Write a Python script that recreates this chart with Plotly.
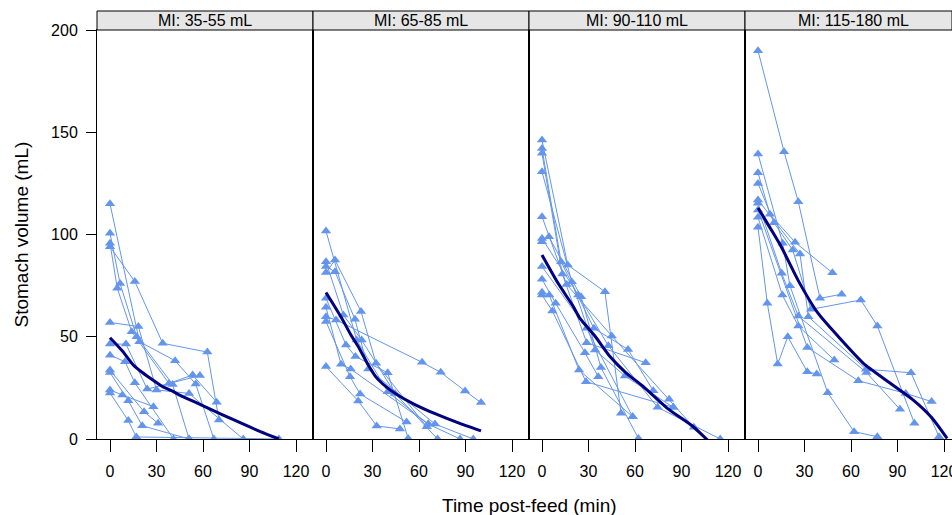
import plotly.graph_objects as go

# ---------------- data ----------------
panel_labels = ["MI: 35-55 mL", "MI: 65-85 mL", "MI: 90-110 mL", "MI: 115-180 mL"]
x_ticks = [0, 30, 60, 90, 120]
y_ticks = [0, 50, 100, 150, 200]

# panel 1 subjects: time (min) and stomach volume (mL)
p1_time = [[0, 19, 42, 55.3, 67], [0, 6.5, 17.2, 40.4, 51], [0, 4.7, 14, 38, 53.3, 68.8],
           [0, 16, 34, 62.8, 70.3], [0, 18.3, 30, 51, 86], [0, 10.3, 24, 58],
           [0, 9.7, 16, 41], [0, 22, 31], [0, 11.8, 20.8, 51], [0, 11.8, 17, 109], [0, 8, 28]]
p1_vol = [[115, 47.6, 38.3, 26.9, 0], [100.6, 76, 50, 26.7, 0], [95.7, 73.7, 52.5, 27.2, 31.3, 18],
          [94, 77, 46.8, 42.5, 9.3], [57, 55, 24, 22.3, 0], [46.4, 46.4, 24.4, 31],
          [41, 37.8, 27.5, 0], [33.7, 13.3, 7.7], [32.5, 18.7, 6.5, 0], [22.5, 9, 1, 0], [24, 21.5, 15.8]]

p2_time = [[0, 19.8, 39.8, 66, 86.5], [0, 11.2, 23, 44.5, 72], [0, 6.5, 62, 74, 89.7, 100],
           [0, 5.8, 22.6, 32.3, 65], [0, 5.8, 18.7, 27.3, 70.3, 95], [0, 12.9, 19, 39.8, 53],
           [0, 9.7, 15.9, 66], [0, 15.5, 22, 52], [0, 20.8, 32.7, 47.7]]
p2_vol = [[101.7, 48.4, 23.1, 7.3, 0], [86.7, 60.6, 48.4, 22.3, 0], [59.8, 58.2, 37.5, 32.6, 23.5, 17.8],
          [81.4, 87.5, 62.3, 37, 6], [84.3, 81.8, 58.5, 34.2, 7.3, 0], [68.8, 46, 40.3, 32.4, 0.3],
          [64.4, 36.5, 34.2, 7.3], [57.4, 30.5, 22, 8.3], [35.4, 18.6, 6.4, 4.9]]

p3_time = [[0, 16.6, 40.6, 51], [0, 12.3, 33.5, 55.5, 71.8], [0, 13.1, 28.8, 66.9],
           [0, 19.2, 34.2, 53.5, 84.7], [0, 15.9, 45, 82, 98], [0, 23.4, 42.8, 74.6, 115],
           [0, 4.5, 25.2, 38, 62.2], [0, 28.8, 58.5], [0, 8.8, 27.7, 36.3],
           [0, 4.7, 23.9, 58.5], [0, 6.7, 28.4, 84.7]]
p3_vol = [[146.2, 85.1, 72, 12.6], [142.1, 86.7, 54.1, 43.8, 23.6], [139.7, 80.7, 47.1, 37.3],
          [130.7, 76.9, 43.5, 30.8, 15.5], [108.7, 75.6, 50.4, 19.4, 5.7], [98.1, 70.4, 45.6, 15.5, 0],
          [96.5, 98.9, 69.6, 35, 0.3], [84.3, 54.1, 10.9], [78.1, 66.4, 42.2, 30.5],
          [71.7, 70.4, 33.7, 10.9], [70.4, 62.6, 28, 15.5]]

p4_time = [[0, 16.8, 26, 40, 54], [0, 15.9, 20.6, 45, 62, 77], [0, 7.7, 23.9, 48],
           [0, 10.3, 22.4, 34.2, 66.3, 77, 100.9], [0, 27.1, 32.5, 69.7, 98.7, 116.8],
           [0, 15.3, 26, 70, 91.6], [0, 15.7, 26, 49.2], [0, 6, 12.7, 19.2, 31.8, 37.9],
           [0, 31.8, 64.7, 95.3, 112]]
p4_vol = [[189.9, 140.5, 116, 68.8, 70.8], [139.4, 95.7, 75, 22.6, 3.6, 1.1], [130.2, 109.9, 96.2, 81.3],
          [125, 105.8, 92.4, 63.4, 68, 55.3, 7.7], [116.9, 90.5, 59.8, 34.1, 32.4, 1.1],
          [115.3, 81, 60.1, 32.5, 14.5], [108.4, 70.4, 55.3, 38.6], [103.5, 66.4, 36.7, 50, 32.9, 31.8],
          [112, 44.8, 28.5, 22.3, 18.3]]

# smooth (mean) curves
s1_time = [0, 8, 15, 20, 26, 34, 40, 47, 55, 65, 80, 97, 109]
s1_vol = [49.5, 43, 36.2, 33, 29.7, 25.6, 23.5, 20.7, 18, 14.5, 9.3, 3.6, 0]
s2_time = [0, 5, 10.8, 16, 21.5, 27, 32, 38.7, 46.2, 58, 70, 85, 100]
s2_vol = [71.6, 65.5, 58.2, 51, 44.3, 36.5, 30.5, 25.6, 21.5, 16.6, 12.5, 8, 4]
s3_time = [0, 10.5, 20, 24.5, 34, 44, 54, 65.4, 80.9, 97.6, 106.5, 112]
s3_vol = [90, 76, 65, 59, 50.5, 40.2, 32.5, 25.6, 15, 6, -0.3, -4]
s4_time = [0, 8, 15, 25.8, 38.7, 53.8, 68, 84, 100.2, 112, 122]
s4_vol = [113, 103, 94, 77.7, 61.5, 48.4, 37, 28, 19, 10.5, 0.3]

subject_times = [p1_time, p2_time, p3_time, p4_time]
subject_vols = [p1_vol, p2_vol, p3_vol, p4_vol]
smooth_times = [s1_time, s2_time, s3_time, s4_time]
smooth_vols = [s1_vol, s2_vol, s3_vol, s4_vol]

# ---------------- layout geometry ----------------
W, H = 952, 515
panel_px = [(97, 313), (313, 529), (529, 745), (745, 960)]
zero_px = [110, 326, 542, 758]
px_per_min = 1.55
top_px, bot_px = 30, 439
strip_top, strip_bot = 11, 30

point_col = "#6495ED"
smooth_col = "#000080"
font_family = "Liberation Sans, Arial, sans-serif"

fig = go.Figure()

for i in range(4):
    ax = "" if i == 0 else str(i + 1)
    for t, v in zip(subject_times[i], subject_vols[i]):
        fig.add_trace(go.Scatter(
            x=t, y=v, mode="lines+markers", xaxis="x" + ax, yaxis="y" + ax,
            line=dict(color=point_col, width=1),
            marker=dict(symbol="triangle-up", size=9, color=point_col, line=dict(width=0)),
            showlegend=False, hoverinfo="x+y"))
    fig.add_trace(go.Scatter(
        x=smooth_times[i], y=smooth_vols[i], mode="lines", xaxis="x" + ax, yaxis="y" + ax,
        line=dict(color=smooth_col, width=3, shape="spline", smoothing=0.6),
        showlegend=False, hoverinfo="skip"))

layout = dict(
    width=W, height=H, margin=dict(l=0, r=0, t=0, b=0, autoexpand=False),
    paper_bgcolor="white", plot_bgcolor="white",
    font=dict(family=font_family, size=16, color="black"),
    showlegend=False,
)

y_dom = [1 - bot_px / H, 1 - top_px / H]
shapes = []
annotations = []
for i, (lr, rr) in enumerate(panel_px):
    key = "" if i == 0 else str(i + 1)
    l, r = lr, min(rr, W)
    x0 = (lr - zero_px[i]) / px_per_min
    x1 = x0 + (r - l) / px_per_min
    layout["xaxis" + key] = dict(
        domain=[l / W, r / W], range=[x0, x1], anchor="y" + key, automargin=False,
        tickvals=x_ticks, ticks="outside", ticklen=12, tickcolor="black",
        ticklabelstandoff=6, tickfont=dict(size=16), ticklabeloverflow="allow",
        showline=True, linecolor="black", linewidth=1, mirror=True,
        showgrid=False, zeroline=False, fixedrange=True)
    layout["yaxis" + key] = dict(
        domain=y_dom, range=[0, 200], anchor="x" + key, automargin=False,
        tickvals=y_ticks, ticks="outside" if i == 0 else "", ticklen=10, tickcolor="black",
        showticklabels=(i == 0), ticklabelstandoff=5, tickfont=dict(size=16),
        showline=True, linecolor="black", linewidth=1, mirror=True,
        showgrid=False, zeroline=False, fixedrange=True)
    shapes.append(dict(type="rect", xref="paper", yref="paper",
                       x0=l / W, x1=r / W, y0=1 - strip_bot / H, y1=1 - strip_top / H,
                       fillcolor="#e6e6e6", line=dict(color="black", width=1), layer="above"))
    cx = lr + 108
    annotations.append(dict(text=panel_labels[i], xref="paper", yref="paper",
                            x=cx / W, y=1 - (strip_top + strip_bot) / 2 / H,
                            xanchor="center", yanchor="middle", showarrow=False,
                            font=dict(size=16)))

annotations.append(dict(text="Time post-feed (min)", xref="paper", yref="paper",
                        x=529 / W, y=1 - 505 / H, xanchor="center", yanchor="middle",
                        showarrow=False, font=dict(size=19)))
annotations.append(dict(text="Stomach volume (mL)", xref="paper", yref="paper",
                        x=21 / W, y=1 - 234.5 / H, xanchor="center", yanchor="middle",
                        textangle=-90, showarrow=False, font=dict(size=19)))

layout["shapes"] = shapes
layout["annotations"] = annotations
fig.update_layout(**layout)

# remove the default page margin so the 952x515 figure fills the window exactly
page_fix = "document.body.style.margin='0';document.body.style.overflow='hidden';"
fig.write_html("out.html", post_script=page_fix, config={"displayModeBar": False})
